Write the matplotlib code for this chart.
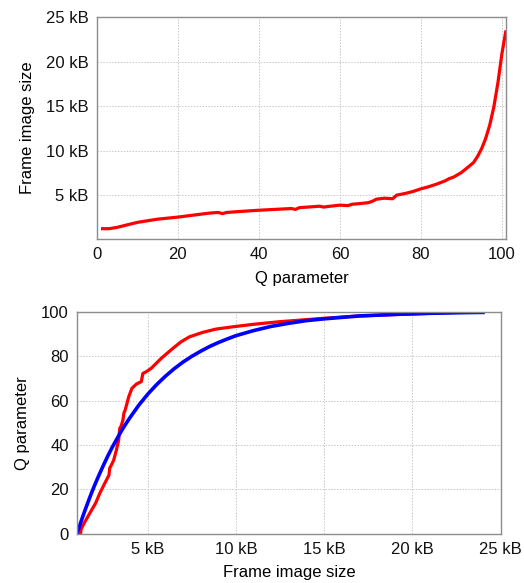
import matplotlib
matplotlib.use("Agg")
import matplotlib.pyplot as plt

plt.rcParams['font.family'] = ['Liberation Sans', 'DejaVu Sans']

# ---- top plot: Q parameter -> frame image size (kB)
q_top = [1, 3, 5, 8, 10, 15, 20, 25, 28, 30, 31, 32, 35, 40, 45, 48, 49, 50, 55, 56, 57,
         60, 62, 63, 65, 67, 68, 69, 71, 73, 74, 76, 78, 80, 82, 84, 86, 87, 88, 90, 92,
         93, 94, 95, 96, 97, 98, 99, 100, 101]
size_top = [1.26, 1.26, 1.41, 1.75, 1.97, 2.33, 2.56, 2.85, 3.02, 3.08, 2.95, 3.08, 3.18,
            3.33, 3.45, 3.52, 3.42, 3.62, 3.78, 3.68, 3.75, 3.9, 3.85, 4.0, 4.08, 4.18,
            4.33, 4.57, 4.68, 4.62, 5.02, 5.2, 5.43, 5.73, 5.98, 6.28, 6.63, 6.88, 7.03,
            7.56, 8.3, 8.68, 9.38, 10.25, 11.4, 12.9, 14.9, 17.6, 20.9, 23.5]

# ---- bottom plot: frame image size (kB) -> Q parameter (measured, red)
size_red = [1.2, 1.23, 1.4, 1.72, 2.05, 2.29, 2.57, 2.81, 2.85, 2.95, 3.08, 3.23, 3.36,
            3.42, 3.5, 3.6, 3.66, 3.72, 3.83, 3.93, 4.11, 4.36, 4.64, 4.73, 4.93, 5.2,
            5.77, 6.43, 6.9, 7.37, 8.12, 8.88, 9.82, 10.95, 12.46, 13.6, 14.9, 17.0,
            20.0, 23.6]
q_red = [0, 2, 4.7, 9.2, 13.7, 18.2, 22.7, 26.4, 29.5, 31, 33.2, 37.7, 42.2, 47.5, 48.5,
         51.2, 54.5, 55.5, 58.7, 61.7, 65.5, 67.4, 68.5, 72.2, 73.0, 74.5, 79, 83.5, 86.5,
         88.7, 90.7, 92.2, 93.2, 94.3, 95.5, 96.2, 97.0, 98.1, 99.0, 100]

# ---- bottom plot: fitted model (blue)
size_fit = [1.0, 1.25, 1.5, 1.75, 2.0, 2.25, 2.5, 2.75, 3.0, 3.25, 3.5, 3.75, 4.0, 4.5,
            5.0, 5.5, 6.0, 6.5, 7.0, 7.5, 8.0, 8.5, 9.0, 9.5, 10.0, 11.0, 12.0, 13.0,
            14.0, 15.0, 17.0, 19.0, 21.0, 23.0, 24.0]
q_fit = [0, 6.0, 11.6, 16.9, 21.9, 26.5, 30.9, 35.1, 39.0, 42.6, 46.1, 49.3, 52.3, 57.9,
         62.8, 67.1, 70.9, 74.3, 77.3, 79.9, 82.2, 84.3, 86.1, 87.7, 89.2, 91.5, 93.4,
         94.8, 96.0, 96.8, 98.1, 98.8, 99.3, 99.6, 99.7]

top_xticks = [0, 20, 40, 60, 80, 100]
kb_ticks = [5, 10, 15, 20, 25]
kb_labels = ['5 kB', '10 kB', '15 kB', '20 kB', '25 kB']
bot_yticks = [0, 20, 40, 60, 80, 100]

fig = plt.figure(figsize=(5.24, 5.83), dpi=100)

border = '#8c8c8c'
grid_kw = dict(color='#c8c8c8', linestyle=(0, (1.5, 1.5)), linewidth=0.7)
fs = 12


def style(ax):
    for s in ax.spines.values():
        s.set_color(border)
        s.set_linewidth(1.0)
    ax.tick_params(direction='in', length=0, labelsize=fs, colors='#111111', pad=6)
    ax.grid(True, **grid_kw)
    ax.set_axisbelow(True)


ax1 = fig.add_axes([0.185, 0.590, 0.7806, 0.3808])
ax1.plot(q_top, size_top, color='#ff0000', linewidth=2.3, solid_capstyle='butt')
ax1.set_xlim(0, 101)
ax1.set_ylim(0.1, 25)
ax1.set_xticks(top_xticks)
ax1.set_yticks(kb_ticks)
ax1.set_yticklabels(kb_labels)
ax1.set_xlabel('Q parameter', fontsize=fs, labelpad=6)
ax1.set_ylabel('Frame image size', fontsize=fs, labelpad=8)
style(ax1)

ax2 = fig.add_axes([0.147, 0.0846, 0.8085, 0.3807])
ax2.plot(size_red, q_red, color='#ff0000', linewidth=2.3)
ax2.plot(size_fit, q_fit, color='#0000ff', linewidth=2.6)
ax2.set_xlim(1.0, 25)
ax2.set_ylim(0, 100)
ax2.set_xticks(kb_ticks)
ax2.set_xticklabels(kb_labels)
ax2.set_yticks(bot_yticks)
ax2.set_xlabel('Frame image size', fontsize=fs, labelpad=6)
ax2.set_ylabel('Q parameter', fontsize=fs, labelpad=8)
style(ax2)

fig.savefig('out.png', dpi=100)
